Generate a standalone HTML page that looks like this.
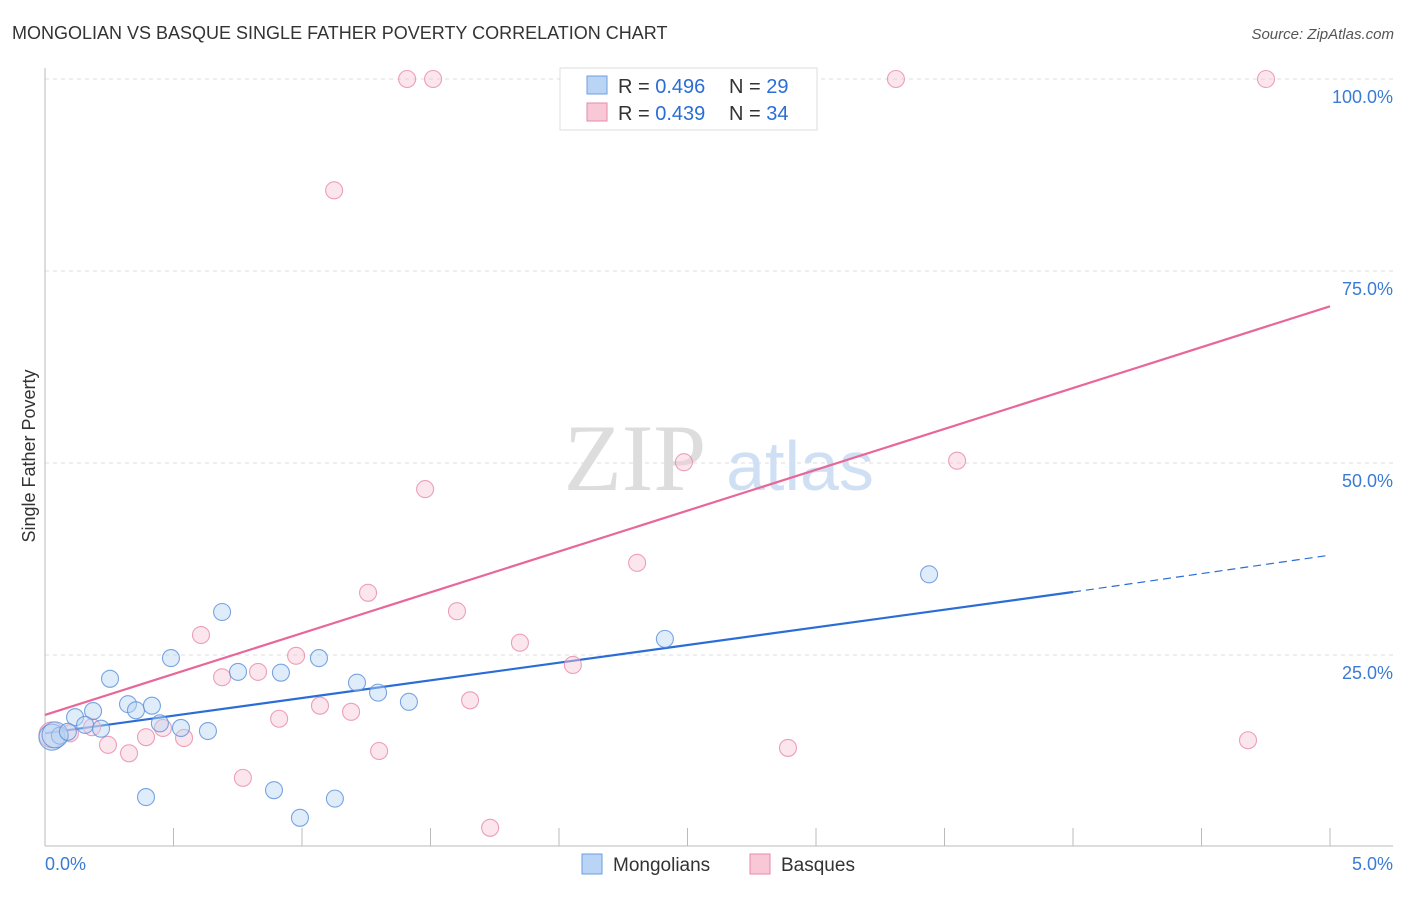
<!DOCTYPE html>
<html><head><meta charset="utf-8"><style>
body{margin:0;background:#fff;font-family:"Liberation Sans",sans-serif}
</style></head><body>
<svg width="1406" height="892" xmlns="http://www.w3.org/2000/svg" font-family="Liberation Sans, sans-serif">
<text x="12" y="39" font-size="18" fill="#333">MONGOLIAN VS BASQUE SINGLE FATHER POVERTY CORRELATION CHART</text>
<text x="1394" y="39" font-size="15" fill="#555" font-style="italic" text-anchor="end">Source: ZipAtlas.com</text>
<text x="35" y="456" font-size="18" fill="#333" transform="rotate(-90 35 456)" text-anchor="middle">Single Father Poverty</text>
<g><text x="635" y="490" font-size="95" fill="#ddd" font-family="Liberation Serif, serif" text-anchor="middle">ZIP</text><text x="800" y="490" font-size="70" fill="#cfe0f5" text-anchor="middle">atlas</text></g>
<g id="grid"></g><g id="lines"></g><g id="pts"></g>
<g>
<rect x="560" y="68" width="257" height="62" fill="#fff" stroke="#ddd"/>
<rect x="587" y="76" width="20" height="18" fill="#b9d4f5" stroke="#6d9de0"/>
<text x="618" y="93" font-size="20" fill="#333">R = <tspan fill="#2a6dd6">0.496</tspan></text>
<text x="729" y="93" font-size="20" fill="#333">N = <tspan fill="#2a6dd6">29</tspan></text>
<rect x="587" y="103" width="20" height="18" fill="#f9c8d6" stroke="#e88aa6"/>
<text x="618" y="120" font-size="20" fill="#333">R = <tspan fill="#2a6dd6">0.439</tspan></text>
<text x="729" y="120" font-size="20" fill="#333">N = <tspan fill="#2a6dd6">34</tspan></text>
</g>
<g>
<rect x="582" y="854" width="20" height="20" fill="#b9d4f5" stroke="#6d9de0"/>
<text x="613" y="871" font-size="19" fill="#333">Mongolians</text>
<rect x="750" y="854" width="20" height="20" fill="#f9c8d6" stroke="#e88aa6"/>
<text x="781" y="871" font-size="19" fill="#333">Basques</text>
</g>
</svg>
<script>
const yTicks=[100,75,50,25];
const xTickLabels=["0.0%","5.0%"];
const blueX=[0.027,0.058,0.117,0.187,0.156,0.218,0.253,0.323,0.354,0.416,0.447,0.529,0.490,0.634,0.689,0.751,0.918,1.066,1.214,1.296,1.416,0.393,0.891,0.992,1.128,2.412,3.440,0.039,0.089];
const blueY=[14.3,14.5,16.9,17.7,15.9,15.4,21.9,18.6,17.8,18.4,16.1,15.5,24.6,15.1,30.6,22.8,22.7,24.6,21.4,20.1,18.9,6.5,7.4,3.8,6.3,27.1,35.5,14.6,15.0];
const pinkX=[1.409,1.510,3.311,4.751,1.125,2.486,3.549,1.479,2.304,1.257,1.603,1.848,0.607,0.977,0.829,0.689,2.054,1.654,1.070,1.191,0.911,0.459,0.393,0.541,0.245,0.327,1.300,2.891,4.681,0.770,1.732,0.027,0.097,0.183];
const pinkY=[100,100,100,100,85.5,50.1,50.3,46.6,37.0,33.1,30.7,26.6,27.6,24.9,22.8,22.1,23.7,19.1,18.4,17.6,16.7,15.5,14.3,14.2,13.3,12.2,12.5,12.9,13.9,9.0,2.5,14.6,14.8,15.6];
const blueLine=[14.8,33.2,38.0]; // at x=0,4,5
const pinkLine=[17.2,70.4]; // at x=0,5
const NS="http://www.w3.org/2000/svg";
const X=v=>45+v*257, Y=v=>847-v*7.68;
function mk(t,a,p){const e=document.createElementNS(NS,t);for(const k in a)e.setAttribute(k,a[k]);p.appendChild(e);return e;}
const g=document.getElementById('grid');
yTicks.forEach(t=>{
 const l=mk('line',{x1:45,x2:1393,y1:Y(t),y2:Y(t),stroke:'#ddd','stroke-dasharray':'4,4'},g);
 
 
 const tx=mk('text',{x:1393,y:Y(t)+24,'font-size':18,fill:'#3a7bd5','text-anchor':'end'},g);
 tx.textContent=t.toFixed(1)+'%';
 
 
});
mk('line',{x1:45,x2:45,y1:68,y2:846,stroke:'#bbb'},g);
mk('line',{x1:45,x2:1393,y1:846,y2:846,stroke:'#bbb'},g);
for(let i=1;i<=10;i++){const t=mk('line',{x1:X(i*0.5),x2:X(i*0.5),y1:828,y2:846,stroke:'#bbb'},g);
 
 }
const x0=mk('text',{x:45,y:870,'font-size':18,fill:'#3a7bd5'},g);x0.textContent=xTickLabels[0];


const x1=mk('text',{x:1393,y:870,'font-size':18,fill:'#3a7bd5','text-anchor':'end'},g);x1.textContent=xTickLabels[1];


const p=document.getElementById('pts');
function pts(xs,ys,fill,stroke,name){xs.forEach((x,i)=>{const r=(x<0.05)?13:8.5;
 const c=mk('circle',{cx:X(x),cy:Y(ys[i]),r:r,fill:fill,'fill-opacity':0.45,stroke:stroke,'stroke-width':1.1,'stroke-opacity':0.8},p);
 
 });}
pts(pinkX,pinkY,'#f9c8d6','#e88aa6','basque-point');
pts(blueX,blueY,'#b9d4f5','#5b8fdc','mongolian-point');
const L=document.getElementById('lines');
const pl=mk('line',{x1:X(0),y1:Y(pinkLine[0]),x2:X(5),y2:Y(pinkLine[1]),stroke:'#e8679a','stroke-width':2.2},L);


const bl=mk('line',{x1:X(0),y1:Y(blueLine[0]),x2:X(4),y2:Y(blueLine[1]),stroke:'#2a6dd6','stroke-width':2.2},L);


const bd=mk('line',{x1:X(4),y1:Y(blueLine[1]),x2:X(5),y2:Y(blueLine[2]),stroke:'#2a6dd6','stroke-width':1.2,'stroke-dasharray':'8,5'},L);


</script>
</body></html>
